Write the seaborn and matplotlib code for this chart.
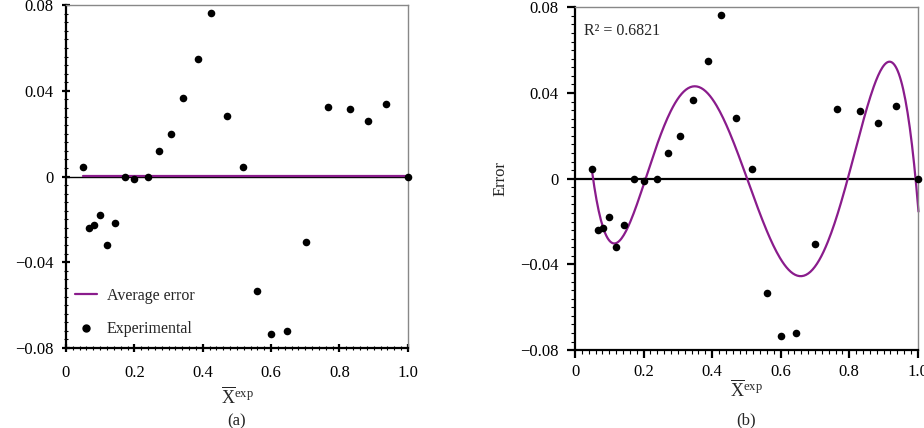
import numpy as np
import pandas as pd
import matplotlib
matplotlib.use("Agg")
import matplotlib.pyplot as plt
from matplotlib.ticker import MultipleLocator, FixedLocator
from matplotlib.lines import Line2D
import seaborn as sns

# ---------------- data ----------------
x_exp = [0.050, 0.066, 0.083, 0.100, 0.120, 0.144, 0.172, 0.200, 0.239,
         0.272, 0.307, 0.343, 0.387, 0.425, 0.471, 0.517, 0.559, 0.601,
         0.646, 0.701, 0.765, 0.830, 0.883, 0.937, 1.000]
error = [0.0044, -0.0239, -0.0228, -0.0178, -0.0319, -0.0217, -0.0003, -0.0013,
         -0.0003, 0.0119, 0.0197, 0.0366, 0.0550, 0.0763, 0.0283, 0.0044,
         -0.0533, -0.0733, -0.0719, -0.0305, 0.0325, 0.0314, 0.0261, 0.0339, 0.0000]

y_ticks = [-0.08, -0.04, 0.0, 0.04, 0.08]
y_labels = ["\u22120.08", "\u22120.04", "0", "0.04", "0.08"]
x_ticks = [0, 0.2, 0.4, 0.6, 0.8, 1.0]
x_labels = ["0", "0.2", "0.4", "0.6", "0.8", "1.0"]
r2_text = "R\u00b2 = 0.6821"

PURPLE = "#8a1c8c"

df = pd.DataFrame({"x": x_exp, "err": error})

# polynomial trend line through the experimental errors (5th order)
coef = np.polyfit(df["x"], df["err"], 5)
xs = np.linspace(min(x_exp), 1.002, 300)
trend = pd.DataFrame({"x": xs, "err": np.polyval(coef, xs)})
avg_err = df["err"].mean()

# ---------------- style ----------------
sns.set_theme(style="white")
plt.rcParams["font.family"] = ["Liberation Serif", "DejaVu Serif"]
plt.rcParams["mathtext.fontset"] = "custom"
plt.rcParams["mathtext.rm"] = "Liberation Serif"
plt.rcParams["mathtext.it"] = "Liberation Serif:italic"

fig = plt.figure(figsize=(9.24, 4.28), dpi=100)
ax_a = fig.add_axes([0.0714, 0.187, 0.370, 0.801])
ax_b = fig.add_axes([0.6223, 0.182, 0.371, 0.801])

xlab = r"$\overline{\mathrm{X}}^{\mathrm{exp}}$"


def style_axes(ax, tick_dir, xpad, xlabelpad):
    ax.set_xlim(0, 1.0)
    ax.set_ylim(-0.08, 0.08)
    ax.xaxis.set_major_locator(FixedLocator(x_ticks))
    ax.yaxis.set_major_locator(FixedLocator(y_ticks))
    ax.set_xticklabels(x_labels)
    ax.set_yticklabels(y_labels)
    ax.xaxis.set_minor_locator(MultipleLocator(0.02))
    ax.yaxis.set_minor_locator(MultipleLocator(0.004))
    ax.tick_params(which="major", direction=tick_dir, length=6, width=1.6,
                   labelsize=12, colors="black")
    ax.tick_params(which="minor", direction=tick_dir, length=3, width=0.8,
                   colors="black")
    ax.tick_params(axis="x", which="major", pad=xpad)
    ax.tick_params(axis="y", which="major", pad=6)
    ax.tick_params(bottom=True, left=True, top=False, right=False,
                   which="both")
    for side in ["left", "bottom"]:
        ax.spines[side].set_color("black")
        ax.spines[side].set_linewidth(1.6)
    for side in ["top", "right"]:
        ax.spines[side].set_color("#888888")
        ax.spines[side].set_linewidth(1.0)
    ax.set_xlabel(xlab, fontsize=13, labelpad=xlabelpad)


# ---------------- panel (a) ----------------
ax_a.axhline(0, color="black", lw=1.0, zorder=1)
ax_a.plot([min(x_exp), 1.0], [avg_err, avg_err], color=PURPLE, lw=1.6, zorder=2)
sns.scatterplot(data=df, x="x", y="err", ax=ax_a, color="black", s=30,
                edgecolor="black", linewidth=0, zorder=3, legend=False,
                clip_on=False)
style_axes(ax_a, "inout", xpad=9, xlabelpad=4)
ax_a.set_ylabel("")

handles = [Line2D([0], [0], color=PURPLE, lw=1.6),
           Line2D([0], [0], color="black", marker="o", ls="none", markersize=5)]
ax_a.legend(handles, ["Average error", "Experimental"], loc="lower left",
            bbox_to_anchor=(-0.035, -0.03), frameon=False, fontsize=11.5,
            labelspacing=1.1, handlelength=1.4, handletextpad=0.6,
            borderaxespad=0.9)
ax_a.text(0.5, -0.215, "(a)", transform=ax_a.transAxes, ha="center",
          va="center", fontsize=12)

# ---------------- panel (b) ----------------
ax_b.axhline(0, color="black", lw=1.6, zorder=1)
sns.lineplot(data=trend, x="x", y="err", ax=ax_b, color=PURPLE, lw=1.6,
             zorder=2, clip_on=False)
sns.scatterplot(data=df, x="x", y="err", ax=ax_b, color="black", s=30,
                edgecolor="black", linewidth=0, zorder=3, legend=False,
                clip_on=False)
style_axes(ax_b, "out", xpad=4, xlabelpad=0)
ax_b.set_ylabel("Error", fontsize=12, labelpad=8)
ax_b.text(0.025, 0.93, r2_text, transform=ax_b.transAxes, ha="left",
          va="center", fontsize=11.5)
ax_b.text(0.5, -0.205, "(b)", transform=ax_b.transAxes, ha="center",
          va="center", fontsize=12)

fig.savefig("out.png", dpi=100)
